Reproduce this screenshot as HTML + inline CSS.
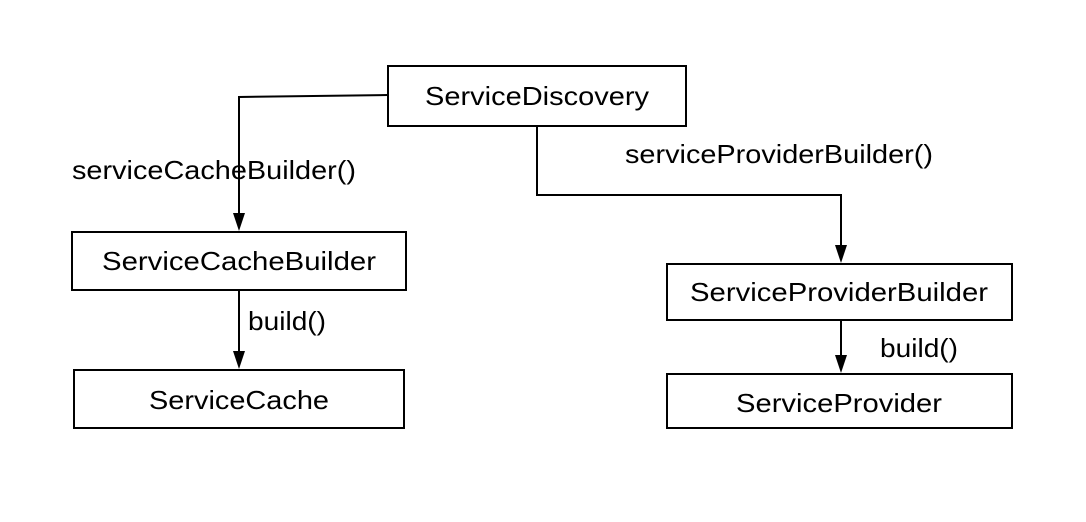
<!DOCTYPE html>
<html><head><meta charset="utf-8"><style>html,body{margin:0;padding:0;background:#fff}svg{display:block}</style></head>
<body>
<svg width="1086" height="522" xmlns="http://www.w3.org/2000/svg" font-family="Liberation Sans, sans-serif" font-size="26" fill="#000">
<g fill="none" stroke="#000" stroke-width="2">
<rect x="388" y="66" width="298" height="60"/>
<rect x="72" y="232" width="334" height="58"/>
<rect x="74" y="370" width="330" height="58"/>
<rect x="667" y="264" width="345" height="56"/>
<rect x="667" y="374" width="345" height="54"/>
<path d="M388,95 L239,97 L239,214"/>
<path d="M239,290 L239,352"/>
<path d="M537,126 L537,195 L841,195 L841,246"/>
<path d="M841,320 L841,356"/>
</g>
<g fill="#000">
<path d="M233,213 L245,213 L239,231 Z"/>
<path d="M233,351 L245,351 L239,369 Z"/>
<path d="M835,245 L847,245 L841,263 Z"/>
<path d="M835,355 L847,355 L841,373 Z"/>
</g>
<text x="537" y="105" text-anchor="middle" textLength="224" lengthAdjust="spacingAndGlyphs">ServiceDiscovery</text>
<text x="239" y="270" text-anchor="middle" textLength="274" lengthAdjust="spacingAndGlyphs">ServiceCacheBuilder</text>
<text x="239" y="409" text-anchor="middle" textLength="180" lengthAdjust="spacingAndGlyphs">ServiceCache</text>
<text x="839" y="301" text-anchor="middle" textLength="298" lengthAdjust="spacingAndGlyphs">ServiceProviderBuilder</text>
<text x="839" y="412" text-anchor="middle" textLength="206" lengthAdjust="spacingAndGlyphs">ServiceProvider</text>
<text x="72" y="179" textLength="284" lengthAdjust="spacingAndGlyphs">serviceCacheBuilder()</text>
<text x="248" y="330" textLength="78" lengthAdjust="spacingAndGlyphs">build()</text>
<text x="625" y="163" textLength="308" lengthAdjust="spacingAndGlyphs">serviceProviderBuilder()</text>
<text x="880" y="357" textLength="78" lengthAdjust="spacingAndGlyphs">build()</text>
</svg>
</body></html>
